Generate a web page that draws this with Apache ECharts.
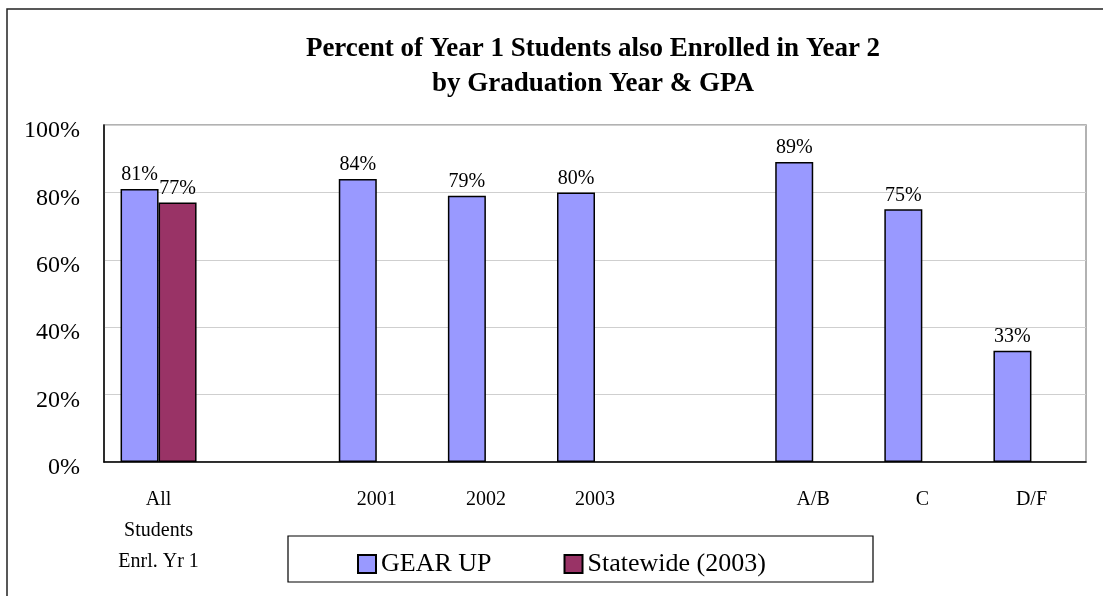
<!DOCTYPE html>
<html>
<head>
<meta charset="utf-8">
<script src="https://cdn.jsdelivr.net/npm/echarts@6/dist/echarts.min.js"></script>
<style>
  html, body { margin: 0; padding: 0; background: #fff; }
  #main { width: 1103px; height: 596px; }
</style>
</head>
<body>
<div id="main"></div>
<script>
var categories = ['All\nStudents\nEnrl. Yr 1', '', '2001', '2002', '2003', '', 'A/B', 'C', 'D/F'];
var gearUp = [81, null, 84, 79, 80, null, 89, 75, 33];
var statewide = [77, null, null, null, null, null, null, null, null];
var yTicks = [0, 20, 40, 60, 80, 100];

var serif = "'Liberation Serif', 'Times New Roman', serif";

var myChart = echarts.init(document.getElementById('main'));
var option = {
	animation: false,
	backgroundColor: '#fff',
	title: {
		text: 'Percent of Year 1 Students also Enrolled in Year 2\nby Graduation Year & GPA',
		left: 588,
		top: 27,
		textAlign: 'center',
		textStyle: {
			fontFamily: serif,
			fontSize: 27,
			fontWeight: 'bold',
			color: '#000',
			lineHeight: 35
		}
	},
	graphic: [{
		type: 'rect',
		shape: { x: 7, y: 9, width: 1200, height: 700 },
		style: { fill: null, stroke: '#222', lineWidth: 1.5 },
		silent: true
	}, {
		type: 'rect',
		shape: { x: 288, y: 536, width: 585, height: 46 },
		style: { fill: '#fff', stroke: '#000', lineWidth: 1.2 },
		silent: true,
		z: -1
	}],
	legend: {
		left: 352,
		top: 546,
		itemWidth: 18,
		itemHeight: 18,
		itemGap: 72,
		textStyle: {
			fontFamily: serif,
			fontSize: 26,
			color: '#000'
		},
		data: [{ name: 'GEAR UP', icon: 'rect' }, { name: 'Statewide (2003)', icon: 'rect' }]
	},
	grid: {
		left: 104,
		right: 17,
		top: 125,
		bottom: 134,
		show: true,
		borderColor: '#999',
		borderWidth: 1.5
	},
	xAxis: {
		type: 'category',
		data: categories,
		axisTick: { show: false },
		axisLine: { lineStyle: { color: '#000', width: 1.5 } },
		axisLabel: {
			interval: 0,
			margin: 22,
			fontFamily: serif,
			fontSize: 20,
			lineHeight: 31,
			color: '#000',
			verticalAlign: 'top'
		}
	},
	yAxis: {
		type: 'value',
		min: yTicks[0],
		max: yTicks[yTicks.length - 1],
		interval: 20,
		axisLine: { show: true, lineStyle: { color: '#000', width: 1.5 } },
		axisTick: { show: false },
		splitLine: { lineStyle: { color: '#cfcfcf', width: 1.2 } },
		axisLabel: {
			formatter: '{value}%',
			margin: 24,
			verticalAlign: 'top',
			lineHeight: 12,
			fontFamily: serif,
			fontSize: 24,
			color: '#000'
		}
	},
	series: [{
		name: 'GEAR UP',
		type: 'bar',
		data: gearUp,
		barWidth: 38,
		barGap: '0%',
		itemStyle: { color: '#9999ff', borderColor: '#000', borderWidth: 1.5 },
		label: {
			show: true,
			position: 'top',
			distance: 4,
			formatter: '{c}%',
			fontFamily: serif,
			fontSize: 20,
			color: '#000'
		}
	}, {
		name: 'Statewide (2003)',
		type: 'bar',
		data: statewide,
		barWidth: 38,
		barGap: '0%',
		itemStyle: { color: '#993366', borderColor: '#000', borderWidth: 1.5 },
		label: {
			show: true,
			position: 'top',
			distance: 4,
			formatter: '{c}%',
			fontFamily: serif,
			fontSize: 20,
			color: '#000'
		}
	}]
};
myChart.setOption(option);
</script>
</body>
</html>
